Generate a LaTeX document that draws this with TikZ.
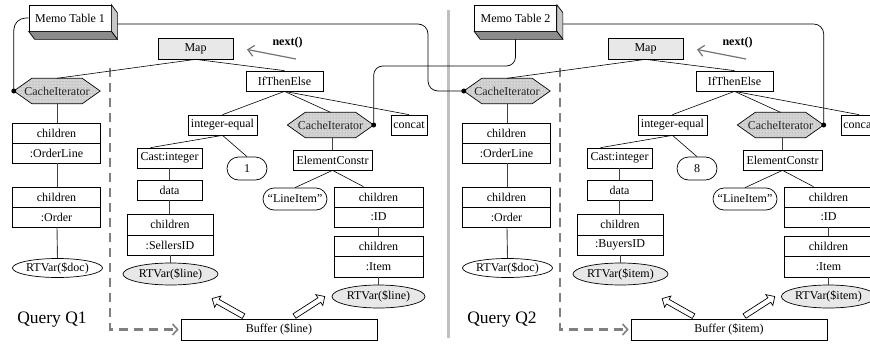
\documentclass[tikz,border=0pt]{standalone}
\usepackage{fontspec}
\setmainfont{Liberation Serif}
\usetikzlibrary{shapes.geometric,shapes.misc,shapes.arrows,arrows.meta,patterns,backgrounds,calc}

\tikzset{
  every node/.style={font=\fontsize{12}{14}\selectfont, inner sep=0pt},
  box/.style={draw, line width=0.7pt, minimum height=20pt, fill=white},
  graybox/.style={box, fill=black!9},
  oval/.style={ellipse, draw, line width=0.7pt, fill=white},
  grayoval/.style={oval, fill=black!9},
  pill/.style={rounded rectangle, draw, line width=0.7pt, fill=white, minimum height=22pt},
  hexbox/.style={minimum width=86pt, minimum height=25pt, text=black!85},
  hexshape/.style={draw, line width=0.7pt, fill=black!17, postaction={pattern=dots, pattern color=black!45}},
  memo/.style={box, minimum width=82pt, minimum height=26pt},
  edge/.style={line width=0.6pt},
  link/.style={line width=0.7pt},
  vlink/.style={line width=0.9pt, black!75},
  nextarrow/.style={line width=1.2pt, black!55, -{Straight Barb[length=6pt,width=11pt]}},
  dashflow/.style={line width=2.2pt, black!50, dash pattern=on 9pt off 6pt, -{Straight Barb[length=5pt,width=11pt,line width=1.6pt]}},
  hollow/.style={single arrow, draw, line width=0.7pt, fill=white, minimum height=36pt, inner sep=2.3pt, single arrow head extend=3.8pt, single arrow head indent=0pt},
  qlabel/.style={font=\fontsize{17.5}{20}\selectfont}
}

% hexagonal operator node: text node plus a dotted hexagon behind it
\newcommand{\hexagonnode}[3]{%
  \node[hexbox] (#1) at (#2) {#3};
  \begin{scope}[on background layer]
    \path[hexshape] (#1.west) -- ([xshift=18pt]#1.north west) -- ([xshift=-18pt]#1.north east)
      -- (#1.east) -- ([xshift=-18pt]#1.south east) -- ([xshift=18pt]#1.south west) -- cycle;
  \end{scope}}

% memo table drawn as an extruded box
\newcommand{\memotable}[3]{%
  \node[memo] (#1) at (#2) {#3};
  \filldraw[line width=0.7pt, fill=black!22] (#1.north east) -- ([shift={(6,8)}]#1.north east)
    -- ([shift={(6,8)}]#1.south east) -- (#1.south east) -- cycle;
  \filldraw[line width=0.7pt, fill=black!45] (#1.south west) -- (#1.south east)
    -- ([shift={(6,8)}]#1.south east) -- ([shift={(6,8)}]#1.south west) -- cycle;}

% one query plan: #1 prefix, #2 offset, #3 constant, #4 attribute, #5 variable, #6 caption
\newcommand{\querypanel}[6]{%
\begin{scope}[xshift=#2]
  \node[graybox, minimum width=75pt, minimum height=21pt] (#1map) at (195.5,48.5) {Map};
  \node[font=\bfseries\fontsize{12}{14}\selectfont] (#1nextlbl) at (287.5,43) {next()};
  \coordinate (#1nexttail) at (296,59);
  \coordinate (#1nexttip) at (247,49.5);
  \draw[nextarrow] (#1nexttail) -- (#1nexttip);
  \node[box, minimum width=77pt] (#1ite) at (284.5,81) {IfThenElse};

  % outer iterator column
  \hexagonnode{#1ciA}{57,91}{CacheIterator}
  \node[box, minimum width=88pt] (#1olA) at (56.5,133) {children};
  \node[box, minimum width=88pt] (#1olB) at (56.5,153) {:OrderLine};
  \node[box, minimum width=88pt] (#1orA) at (56.5,197) {children};
  \node[box, minimum width=88pt] (#1orB) at (56.5,217) {:Order};
  \node[oval, minimum width=90pt, minimum height=19pt] (#1doc) at (57.5,268) {RTVar(\$doc)};
  \node[qlabel] (#1query) at (52,320) {#6};

  % condition branch
  \node[box, minimum width=69pt] (#1ie) at (222.5,125) {integer-equal};
  \node[box, minimum width=65pt] (#1cast) at (169.5,158) {Cast:integer};
  \node[pill, minimum width=40pt, minimum height=23pt] (#1const) at (247,168.5) {#3};
  \node[box, minimum width=65pt] (#1data) at (169.5,190) {data};
  \node[box, minimum width=86pt, minimum height=21pt] (#1atA) at (170,224.5) {children};
  \node[box, minimum width=86pt] (#1atB) at (170,245) {#4};
  \node[grayoval, minimum width=95pt, minimum height=22pt] (#1lvar) at (170.5,274) {RTVar(#5)};

  % result branch
  \hexagonnode{#1ciB}{330.5,125}{CacheIterator}
  \node[box, minimum width=36pt] (#1concat) at (409,125) {concat};
  \node[box, minimum width=79pt] (#1ec) at (332.5,160) {ElementConstr};
  \node[pill, minimum width=64pt] (#1li) at (295,199) {“LineItem”};
  \node[box, minimum width=89pt] (#1idA) at (378.5,197) {children};
  \node[box, minimum width=89pt] (#1idB) at (378.5,217) {:ID};
  \node[box, minimum width=89pt] (#1itA) at (378.5,246) {children};
  \node[box, minimum width=89pt, minimum height=21pt] (#1itB) at (378.5,266.5) {:Item};
  \node[grayoval, minimum width=93pt, minimum height=23pt] (#1rvar) at (378.5,296.5) {RTVar(#5)};

  % buffer and its feeds
  \node[box, minimum width=196pt, minimum height=21pt] (#1buf) at (279,329.5) {Buffer (#5)};
  \node[hollow, rotate=150.6] (#1hA) at (229,308) {};
  \node[hollow, rotate=32.8] (#1hB) at (308.5,307) {};
  \coordinate (#1dtop) at (110,68);
  \draw[dashflow] (#1dtop) |- ([xshift=-2pt]#1buf.west);

  % tree edges
  \draw[edge] (#1map.south) -- (#1ciA.north);
  \draw[edge] (#1map.south) -- (#1ite.north);
  \draw[edge] (#1ite.south) -- (#1ie.north);
  \draw[edge] (#1ite.south) -- (#1ciB.north);
  \draw[edge] (#1ite.south) -- (#1concat.north);
  \draw[edge] (#1ie.south) -- ([xshift=-19pt]#1cast.north);
  \draw[edge] (#1ie.south) -- (#1const.north);
  \draw[edge] (#1ec.south) -- (#1li.north);
  \draw[edge] (#1ec.south) -- ([xshift=-15pt]#1idA.north);

  % chains
  \draw[vlink] (#1ciA.south) -- (#1ciA.south |- #1olA.north);
  \draw[vlink] (#1olB.south -| #1ciA.south) -- (#1orA.north -| #1ciA.south);
  \draw[vlink] (#1orB.south -| #1ciA.south) -- (#1doc.north);
  \draw[vlink] (#1cast.south) -- (#1data.north);
  \draw[vlink] (#1data.south) -- (#1data.south |- #1atA.north);
  \draw[vlink] (#1atB.south) -- (#1atB.south |- #1lvar.north);
  \draw[vlink] (#1ciB.south -| #1ec.north) -- (#1ec.north);
  \draw[vlink] (#1idB.south) -- (#1itA.north);
  \draw[vlink] (#1itB.south) -- (#1rvar.north);

  % attachment points of the memo tables
  \fill (#1ciA.west) circle[radius=2.5pt];
  \fill (#1ciB.east) circle[radius=2.5pt];
\end{scope}}

\begin{document}
\begin{tikzpicture}[x=1pt, y=-1pt]
  \useasboundingbox (0,0) rectangle (870,343);
  \clip (0,0) rectangle (870,343);

  % separator between the two queries
  \coordinate (septop) at (448,10);
  \coordinate (sepbot) at (448,338);
  \draw[line width=3pt, black!25] (septop) -- (sepbot);

  \querypanel{a}{0pt}{1}{:SellersID}{\$line}{Query Q1}
  \querypanel{b}{450pt}{8}{:BuyersID}{\$item}{Query Q2}

  \memotable{m1}{70,18}{Memo Table 1}
  \memotable{m2}{515.5,18}{Memo Table 2}

  % memo table links
  \draw[link, rounded corners=12pt] (m1.west) -| (aciA.west);
  \draw[link, rounded corners=10pt] ([shift={(6,6)}]m1.east) -| (428,91) -- (bciA.west);
  \draw[link, rounded corners=9pt] ([shift={(0,8)}]m2.south) |- (400,66) -| (aciB.east);
  \draw[link, rounded corners=10pt] ([shift={(6,6)}]m2.east) -| (bciB.east);
\end{tikzpicture}
\end{document}
